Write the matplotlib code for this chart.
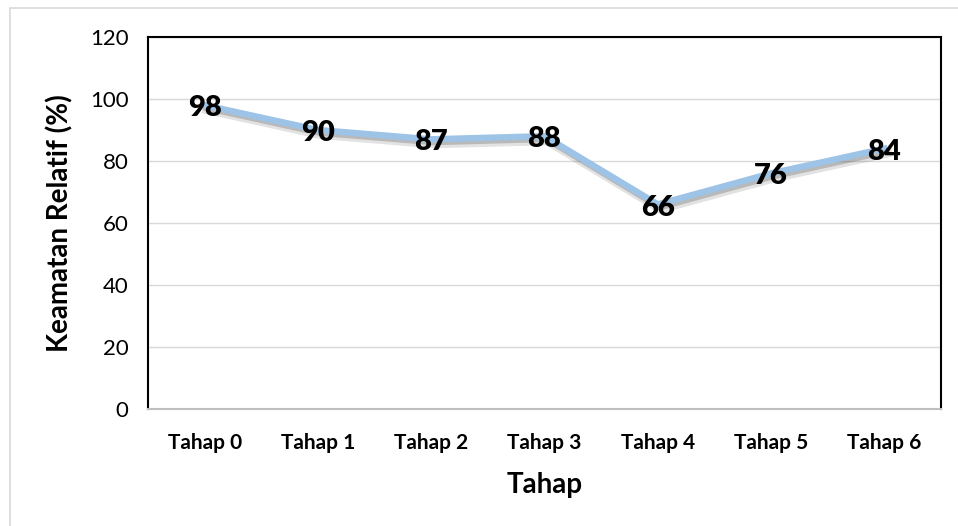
import matplotlib
matplotlib.use("Agg")
import matplotlib.pyplot as plt
import matplotlib.patheffects as pe
from matplotlib.patches import Rectangle

plt.rcParams['font.family'] = ['Lato', 'DejaVu Sans']

tahap = ['Tahap 0', 'Tahap 1', 'Tahap 2', 'Tahap 3', 'Tahap 4', 'Tahap 5', 'Tahap 6']
keamatan = [98, 90, 87, 88, 66, 76, 84]
y_ticks = [0, 20, 40, 60, 80, 100, 120]

fig = plt.figure(figsize=(9.58, 5.26), dpi=100)
# light border round the chart area
fig.patches.append(Rectangle((10 / 958, -0.05), 1.2, (526 - 8) / 526 + 0.05,
                             transform=fig.transFigure, fill=False,
                             edgecolor='#d9d9d9', linewidth=1.2))

ax = fig.add_axes([148 / 958, 117 / 526, 793 / 958, 372 / 526])
x = list(range(len(tahap)))
# soft shadow: two offset passes, then the line itself
ax.plot(x, keamatan, color='#9dc3e6', linewidth=4.6, solid_joinstyle='miter', zorder=3,
        path_effects=[pe.SimpleLineShadow(offset=(2, -3), shadow_color='#404040', alpha=0.15,
                                          linewidth=7),
                      pe.SimpleLineShadow(offset=(1.5, -2), shadow_color='#404040', alpha=0.25),
                      pe.Normal()])
for xi, v in zip(x, keamatan):
    ax.text(xi, v - 1, str(v), ha='center', va='center', fontsize=21, fontweight='heavy',
            color='black', zorder=5)

ax.set_xlim(-0.5, len(tahap) - 0.5)
ax.set_ylim(0, 120)
ax.set_yticks(y_ticks)
ax.set_xticks(x)
ax.set_xticklabels(tahap, fontsize=15, fontweight='bold')
ax.tick_params(axis='y', labelsize=16, length=0, pad=14)
ax.tick_params(axis='x', length=0, pad=17)
ax.grid(axis='y', color='#d9d9d9', linewidth=1)
ax.set_axisbelow(True)

for side in ['left', 'top', 'right']:
    ax.spines[side].set_color('black')
    ax.spines[side].set_linewidth(1.5)
ax.spines['bottom'].set_color('#bfbfbf')
ax.spines['bottom'].set_linewidth(1.5)

ax.set_xlabel('Tahap', fontsize=20, fontweight='bold', labelpad=14)
ax.set_ylabel('Keamatan Relatif (%)', fontsize=20, fontweight='bold', labelpad=12)

fig.savefig('out.png', dpi=100)
